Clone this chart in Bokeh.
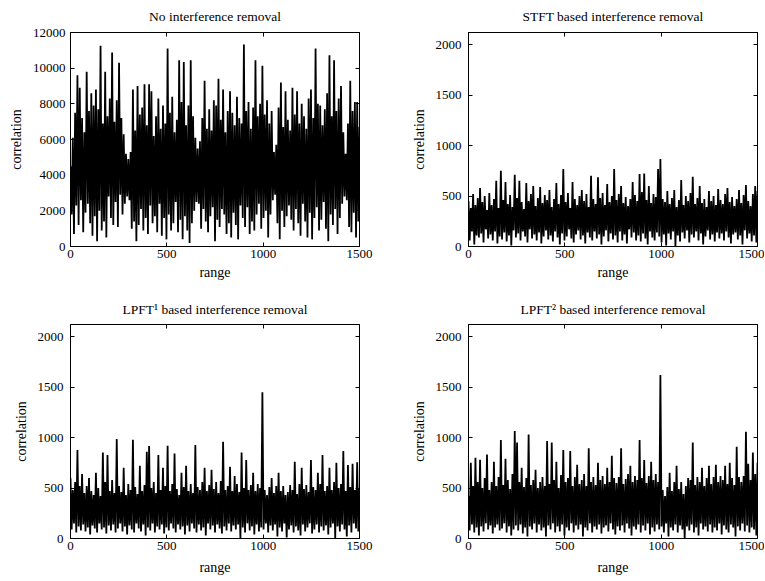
import numpy as np
from bokeh.plotting import figure
from bokeh.layouts import gridplot
from bokeh.models import Range1d, LinearAxis, FixedTicker, CustomLabelingPolicy
from bokeh.embed import file_html
from bokeh.resources import INLINE

# ---------------- data (x step = 6 range bins) ----------------
range_step = 6
n_points = 251

titles = ["No interference removal", "STFT based interference removal",
          "LPFT\u00b9 based interference removal", "LPFT\u00b2 based interference removal"]
x_ticks = [0, 500, 1000, 1500]
y_ticks_raw = [0, 2000, 4000, 6000, 8000, 10000, 12000]
y_ticks_filtered = [0, 500, 1000, 1500, 2000]
y_max_raw = 12000
y_max_filtered = 2120

no_removal = [
    4500, 1800, 6100, 700, 7500, 2300, 9600, 1200, 8900, 2600,
    7200, 800, 6400, 1900, 9800, 2400, 7600, 1300, 8600, 600,
    7900, 1700, 8800, 300, 7700, 2000, 11250, 900, 6900, 1400,
    9800, 500, 7300, 2800, 8300, 1600, 10880, 1200, 7000, 2500,
    8200, 1100, 10300, 2900, 7200, 1800, 6300, 2400, 5200, 2800,
    4900, 2600, 5300, 1000, 8800, 1400, 6500, 300, 9000, 1200,
    7400, 2100, 7800, 900, 9100, 1600, 6800, 700, 9100, 2300,
    8700, 1300, 6200, 1700, 7300, 800, 8300, 2400, 6600, 600,
    7900, 1600, 6900, 400, 11100, 1800, 7500, 900, 8400, 1300,
    6400, 2500, 7100, 800, 10450, 1500, 8100, 400, 10350, 1700,
    6800, 900, 7900, 200, 10450, 1300, 7300, 2000, 6100, 2500,
    5500, 2400, 5900, 1000, 7200, 2100, 9300, 1400, 6600, 800,
    7700, 1700, 6500, 2200, 8200, 300, 7900, 1500, 9400, 1100,
    7100, 2100, 8800, 1800, 6400, 700, 7600, 1300, 8700, 500,
    7500, 1900, 6800, 1200, 8400, 400, 7200, 2300, 6900, 1600,
    11330, 1100, 7600, 2200, 8100, 700, 6600, 1400, 7800, 900,
    10450, 1800, 7300, 2400, 8000, 1000, 10130, 1600, 7400, 2000,
    8200, 500, 6900, 1800, 7600, 2600, 5300, 2900, 5700, 1300,
    7800, 400, 9200, 2000, 6700, 1100, 8700, 1700, 7100, 2300,
    6500, 1500, 8900, 900, 7400, 2100, 8700, 1300, 6900, 600,
    8000, 2400, 7300, 1400, 6600, 500, 8300, 1900, 8800, 400,
    7200, 1600, 11100, 2200, 8000, 900, 7900, 1500, 6800, 2500,
    7700, 1000, 8600, 300, 10730, 1800, 7300, 1200, 10450, 2100,
    7600, 700, 8300, 1600, 9000, 2400, 6400, 2800, 5200, 2600,
    6900, 1100, 9300, 800, 7600, 1900, 8100, 500, 8100, 1400,
    6700,
]

stft_removal = [
    450, 60, 380, 150, 520, 20, 410, 110, 480, 90,
    580, 130, 440, 40, 500, 170, 360, 80, 530, 120,
    410, 60, 470, 150, 650, 30, 380, 100, 750, 70,
    460, 140, 640, 50, 420, 110, 510, 10, 390, 160,
    710, 90, 480, 130, 650, 60, 440, 150, 370, 100,
    630, 40, 450, 170, 520, 80, 600, 120, 400, 60,
    480, 140, 590, 30, 430, 100, 510, 160, 460, 70,
    560, 110, 390, 50, 470, 150, 630, 90, 420, 20,
    510, 130, 767, 60, 440, 100, 530, 170, 380, 80,
    640, 40, 470, 120, 410, 160, 500, 70, 560, 110,
    450, 30, 520, 140, 390, 90, 700, 60, 470, 150,
    420, 80, 685, 120, 480, 20, 530, 100, 410, 160,
    620, 50, 440, 130, 500, 70, 767, 110, 460, 40,
    520, 150, 600, 60, 430, 120, 490, 30, 400, 170,
    470, 90, 640, 140, 510, 60, 450, 110, 717, 50,
    540, 130, 723, 80, 460, 20, 600, 150, 430, 90,
    520, 60, 490, 140, 767, 100, 866, 40, 470, 120,
    440, 10, 550, 130, 420, 70, 480, 150, 560, 0,
    390, 110, 460, 50, 658, 140, 410, 80, 500, 160,
    450, 40, 530, 120, 691, 90, 420, 150, 480, 60,
    600, 130, 430, 20, 470, 100, 390, 160, 550, 70,
    450, 120, 500, 50, 410, 140, 570, 80, 460, 130,
    420, 60, 520, 150, 580, 90, 440, 30, 490, 120,
    400, 140, 470, 70, 560, 110, 430, 20, 510, 160,
    610, 80, 450, 130, 400, 50, 520, 110, 600, 40,
    550,
]

lpft1_removal = [
    600, 90, 480, 150, 560, 60, 876, 120, 520, 80,
    640, 140, 450, 70, 520, 110, 600, 40, 470, 130,
    430, 100, 650, 60, 500, 150, 420, 90, 853, 110,
    560, 50, 826, 130, 470, 80, 580, 140, 450, 60,
    985, 100, 520, 150, 460, 70, 700, 120, 430, 40,
    540, 130, 480, 90, 978, 60, 510, 150, 440, 100,
    720, 70, 470, 140, 530, 30, 860, 110, 916, 80,
    500, 150, 560, 60, 450, 120, 826, 90, 480, 140,
    700, 50, 520, 110, 919, 80, 470, 150, 540, 100,
    843, 60, 490, 140, 430, 90, 650, 120, 510, 40,
    720, 130, 470, 70, 540, 150, 450, 100, 926, 60,
    510, 140, 480, 80, 560, 110, 700, 30, 470, 150,
    530, 90, 680, 130, 490, 60, 560, 140, 450, 100,
    570, 50, 958, 120, 480, 80, 520, 150, 710, 70,
    470, 130, 620, 90, 540, 140, 460, 0, 853, 110,
    500, 60, 777, 150, 480, 80, 530, 120, 650, 40,
    470, 140, 540, 70, 500, 110, 1448, 90, 480, 150,
    430, 60, 510, 130, 600, 80, 450, 140, 520, 20,
    650, 110, 470, 70, 520, 150, 430, 10, 460, 90,
    530, 130, 480, 60, 760, 120, 440, 80, 540, 30,
    700, 140, 490, 70, 530, 110, 460, 150, 777, 50,
    510, 90, 480, 140, 650, 60, 540, 120, 826, 80,
    470, 130, 520, 40, 700, 110, 480, 150, 560, 0,
    750, 120, 500, 70, 540, 140, 866, 90, 470, 20,
    727, 130, 510, 60, 740, 150, 480, 100, 754, 70,
    500,
]

lpft2_removal = [
    420, 80, 750, 140, 520, 60, 800, 110, 560, 30,
    780, 120, 500, 70, 600, 150, 833, 90, 480, 130,
    560, 50, 760, 110, 520, 140, 610, 80, 975, 100,
    530, 150, 790, 60, 580, 120, 490, 30, 640, 90,
    1064, 130, 952, 80, 560, 140, 700, 50, 510, 110,
    600, 20, 1031, 120, 530, 90, 580, 150, 680, 60,
    500, 140, 560, 80, 610, 110, 520, 20, 965, 130,
    540, 90, 952, 150, 580, 60, 760, 120, 500, 70,
    630, 140, 876, 30, 560, 110, 600, 80, 866, 150,
    520, 60, 610, 130, 730, 90, 540, 140, 580, 20,
    640, 110, 520, 80, 893, 150, 560, 60, 610, 120,
    530, 90, 750, 140, 580, 50, 620, 110, 540, 130,
    700, 70, 560, 150, 820, 90, 600, 40, 550, 120,
    610, 80, 893, 130, 540, 60, 590, 150, 640, 100,
    720, 30, 560, 120, 620, 90, 580, 140, 975, 60,
    600, 130, 777, 80, 550, 150, 620, 40, 760, 110,
    580, 70, 640, 140, 560, 90, 1620, 120, 480, 60,
    420, 150, 510, 20, 650, 110, 470, 80, 560, 140,
    720, 60, 490, 130, 560, 90, 440, 0, 520, 120,
    600, 80, 580, 140, 952, 60, 530, 110, 610, 30,
    560, 150, 700, 90, 520, 120, 600, 70, 720, 140,
    540, 60, 610, 110, 730, 80, 560, 150, 620, 40,
    580, 130, 720, 90, 540, 60, 750, 140, 600, 110,
    530, 20, 909, 120, 610, 80, 560, 150, 620, 70,
    1058, 130, 740, 60, 580, 110, 853, 90, 640, 30,
    750,
]

range_bins = np.arange(n_points) * range_step

FONT = "Liberation Serif"
TICK_FS = "13px"
LABEL_FS = "14px"
TITLE_FS = "13.5px"

HIDE_LABELS = """
for (const i of indices) {
  indices.unset(i)
}
return indices
"""


def style_axis(ax, ticks, hidden=False):
    ax.ticker = FixedTicker(ticks=ticks)
    ax.major_tick_in = 4
    ax.major_tick_out = 0
    ax.minor_tick_line_color = None
    ax.axis_line_color = "black"
    ax.major_tick_line_color = "black"
    if hidden:
        ax.major_label_text_font_size = "1px"
        ax.major_label_standoff = 0
        ax.major_label_policy = CustomLabelingPolicy(code=HIDE_LABELS)
    else:
        ax.major_label_text_font = FONT
        ax.major_label_text_font_size = TICK_FS
        ax.major_label_text_color = "black"
        ax.axis_label_text_font = FONT
        ax.axis_label_text_font_size = LABEL_FS
        ax.axis_label_text_font_style = "normal"
        ax.axis_label_text_color = "black"


def make(title, y, ymax, yticks, left, right, top, bottom,
         ylab_standoff, xlabel_standoff, title_standoff):
    p = figure(frame_width=289, frame_height=214,
               x_range=Range1d(0, 1500), y_range=Range1d(0, ymax),
               output_backend="svg", toolbar_location=None,
               min_border_left=left, min_border_right=right,
               min_border_top=top, min_border_bottom=bottom)
    p.title.text = title
    p.title.align = "center"
    p.title.text_font = FONT
    p.title.text_font_size = TITLE_FS
    p.title.text_font_style = "normal"
    p.title.text_color = "black"
    p.title.standoff = title_standoff
    p.grid.visible = False
    p.outline_line_color = "black"
    p.background_fill_color = "white"
    p.border_fill_color = "white"

    p.xaxis.axis_label = "range"
    p.yaxis.axis_label = "correlation"
    style_axis(p.xaxis[0], x_ticks)
    style_axis(p.yaxis[0], yticks)
    p.xaxis[0].major_label_standoff = 3
    p.xaxis[0].axis_label_standoff = xlabel_standoff
    p.yaxis[0].major_label_standoff = ylab_standoff
    p.yaxis[0].axis_label_standoff = 6

    top_ax = LinearAxis()
    right_ax = LinearAxis()
    style_axis(top_ax, x_ticks, hidden=True)
    style_axis(right_ax, yticks, hidden=True)
    p.add_layout(top_ax, "above")
    p.add_layout(right_ax, "right")

    p.line(range_bins, y, line_color="black", line_width=1.8)
    return p


p1 = make(titles[0], no_removal, y_max_raw, y_ticks_raw, 70, 41, 32, 46, 5, 4, 10)
p2 = make(titles[1], stft_removal, y_max_filtered, y_ticks_filtered, 68, 7, 32, 46, 7, 4, 10)
p3 = make(titles[2], lpft1_removal, y_max_filtered, y_ticks_filtered, 70, 41, 32, 42, 7, 7, 8)
p4 = make(titles[3], lpft2_removal, y_max_filtered, y_ticks_filtered, 68, 7, 32, 42, 7, 7, 8)

grid = gridplot([[p1, p2], [p3, p4]], toolbar_location=None)

open("out.html", "w").write(file_html(grid, INLINE))
